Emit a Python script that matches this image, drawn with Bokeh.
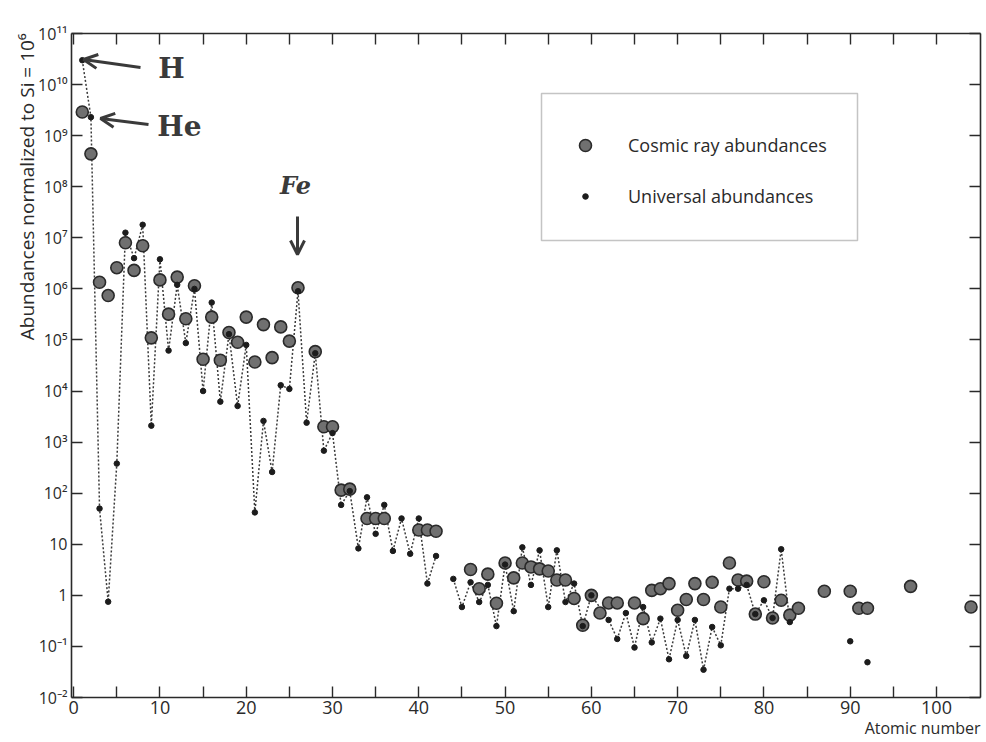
from bokeh.plotting import figure
from bokeh.models import (LogAxis, LinearAxis, FixedTicker, Label, Arrow, OpenHead,
                          BoxAnnotation, Legend, LegendItem, Title)
from bokeh.embed import file_html
from bokeh.resources import INLINE

nan = float("nan")

# Cosmic ray abundances (atomic number, abundance normalised to Si = 10^6)
cosmic_z = [1, 2, 3, 4, 5, 6, 7, 8, 9, 10, 11, 12, 13, 14, 15, 16, 17, 18, 19, 20,
            21, 22, 23, 24, 25, 26, 28, 29, 30, 31, 32, 34, 35, 36, 40, 41, 42,
            46, 47, 48, 49, 50, 51, 52, 53, 54, 55, 56, 57, 58, 59, 60, 61, 62, 63,
            65, 66, 67, 68, 69, 70, 71, 72, 73, 74, 75, 76, 77, 78, 79, 80, 81, 82,
            83, 84, 87, 90, 91, 92, 97, 104]
cosmic_abund = [2.9e9, 4.4e8, 1.35e6, 7.4e5, 2.6e6, 8e6, 2.3e6, 7e6, 1.1e5, 1.5e6,
                3.2e5, 1.7e6, 2.6e5, 1.15e6, 4.2e4, 2.8e5, 4e4, 1.4e5, 9e4, 2.8e5,
                3.7e4, 2e5, 4.5e4, 1.8e5, 9.5e4, 1.05e6, 5.9e4, 2e3, 2e3, 115, 120,
                32, 32, 32, 19, 19, 18,
                3.2, 1.35, 2.6, 0.7, 4.3, 2.2, 4.3, 3.6, 3.3, 3.0, 2.0, 2.0, 0.87, 0.26,
                1.0, 0.45, 0.71, 0.71,
                0.71, 0.35, 1.25, 1.35, 1.7, 0.51, 0.83, 1.7, 0.83, 1.8, 0.59, 4.3,
                2.0, 1.9, 0.43, 1.85, 0.36, 0.8,
                0.41, 0.56, 1.2, 1.2, 0.56, 0.56, 1.5, 0.59]

# Universal abundances (NaN = no value, breaks the dotted line)
universal_z = [1, 2, 3, 4, 5, 6, 7, 8, 9, 10, 11, 12, 13, 14, 15, 16, 17, 18, 19, 20,
               21, 22, 23, 24, 25, 26, 27, 28, 29, 30, 31, 32, 33, 34, 35, 36, 37, 38,
               39, 40, 41, 42, 43, 44, 45, 46, 47, 48, 49, 50, 51, 52, 53, 54, 55, 56,
               57, 58, 59, 60, 62, 63, 64, 65, 66, 67, 68, 69, 70, 71, 72, 73, 74, 75,
               76, 77, 78, 79, 80, 81, 82, 83, 84, 90, 91, 92]
universal_abund = [3e10, 2.3e9, 50, 0.75, 380, 1.26e7, 4e6, 1.8e7, 2.1e3, 3.8e6,
                   6.2e4, 1.2e6, 8.7e4, 1e6, 1e4, 5.4e5, 6.2e3, 1.3e5, 5.1e3, 8e4,
                   42, 2.6e3, 260, 1.3e4, 1.1e4, 9e5, 2.4e3, 5.5e4, 680, 1.5e3, 59, 110,
                   8.3, 83, 16, 59, 7.4, 32,
                   6.5, 32, 1.7, 5.9, nan, 2.1, 0.59, 1.8, 0.74, 1.6, 0.25, 4.0, 0.49,
                   8.7, 1.6, 7.6, 0.59, 7.6,
                   0.74, 1.7, 0.25, 1.0, 0.33, 0.14, 0.45, 0.095, 0.59, 0.12, 0.35,
                   0.056, 0.33, 0.065, 0.33, 0.035, 0.24, 0.105,
                   1.35, 1.35, 1.6, 0.43, 0.8, 0.36, 8.0, 0.3, nan, 0.126, nan, 0.049]

# Tick labels
x_ticks = list(range(0, 101, 5))
x_tick_labels = {t: (str(t) if t % 10 == 0 else "") for t in x_ticks}
y_ticks = [1e-2, 1e-1, 1.0, 10.0, 1e2, 1e3, 1e4, 1e5, 1e6, 1e7, 1e8, 1e9, 1e10, 1e11]
y_tick_text = ["10⁻²", "10⁻¹", "1", "10", "10²", "10³", "10⁴", "10⁵", "10⁶", "10⁷",
               "10⁸", "10⁹", "10¹⁰", "10¹¹"]

FONT = "Open Sans"
INK = "#2a2a2a"

p = figure(width=986, height=742, x_range=(-0.25, 105.1), y_range=(1e-2, 1e11),
           y_axis_type="log", output_backend="svg", toolbar_location=None,
           min_border_left=71, min_border_top=33, min_border_bottom=45,
           min_border_right=6, background_fill_color="white",
           border_fill_color="white", outline_line_color=None)
p.grid.visible = False


def style_axis(ax):
    ax.axis_line_color = INK
    ax.axis_line_width = 1.6
    ax.major_tick_line_color = INK
    ax.major_tick_line_width = 1.4
    ax.major_tick_in = 11
    ax.major_tick_out = 0
    ax.minor_tick_in = 0
    ax.minor_tick_out = 0
    ax.minor_tick_line_color = None
    ax.major_label_text_font = FONT
    ax.major_label_text_color = INK


xa = p.xaxis[0]
xa.ticker = FixedTicker(ticks=x_ticks)
xa.major_label_overrides = x_tick_labels
style_axis(xa)
xa.major_label_text_font_size = "18px"
xa.major_label_standoff = 3

ya = p.yaxis[0]
ya.ticker = FixedTicker(ticks=y_ticks)
ya.major_label_overrides = dict(zip(y_ticks, y_tick_text))
style_axis(ya)
ya.major_label_text_font_size = "16px"
ya.major_label_standoff = 4

top = LinearAxis(ticker=FixedTicker(ticks=x_ticks),
                 major_label_overrides={t: "" for t in x_ticks}, major_label_standoff=0)
style_axis(top)
p.add_layout(top, "above")
right = LogAxis(ticker=FixedTicker(ticks=y_ticks),
                major_label_overrides={t: "" for t in y_ticks}, major_label_standoff=0)
style_axis(right)
p.add_layout(right, "right")

# axis titles
p.add_layout(Title(text="Abundances normalized to Si = 10⁶", align="right",
                   text_font=FONT, text_font_size="19px", text_font_style="normal",
                   text_color=INK, standoff=-9), "left")
p.add_layout(Title(text="Atomic number", align="right", text_font=FONT,
                   text_font_size="16px", text_font_style="normal",
                   text_color=INK, standoff=-4), "below")

# data
p.line(universal_z, universal_abund, line_dash="2 2", line_width=1.5, line_color="#3a3a3a")
r_cos = p.scatter(cosmic_z, cosmic_abund, size=12, fill_color="#707070",
                  line_color="#2a2a2a", line_width=1.6)
r_uni = p.scatter(universal_z, universal_abund, size=5.5, fill_color="#1c1c1c",
                  line_color="#1c1c1c")

# legend box and legends
p.add_layout(BoxAnnotation(left=470, right=786, top=604, bottom=457,
                           left_units="screen", right_units="screen",
                           top_units="screen", bottom_units="screen",
                           fill_alpha=0, fill_color=None, line_color="#3a3a3a",
                           line_width=1.5))
leg_common = dict(border_line_color=None, background_fill_alpha=0, padding=0,
                  margin=0, spacing=0, label_text_font=FONT,
                  label_text_font_size="18px", label_text_color=INK,
                  label_standoff=28, glyph_width=30)
leg1 = Legend(items=[LegendItem(label="Cosmic ray abundances", renderers=[r_cos])],
              location=(499, 537), glyph_height=30, **leg_common)
leg2 = Legend(items=[LegendItem(label="Universal abundances", renderers=[r_uni])],
              location=(499, 489), glyph_height=14, **leg_common)
p.add_layout(leg1)
p.add_layout(leg2)

# hand-written annotations
for txt, sx, sy, size, style in [("H", 100, 629, "28px", "bold"),
                                 ("He", 108, 571, "28px", "bold"),
                                 ("Fe", 224, 512, "24px", "bold italic")]:
    p.add_layout(Label(x=sx, y=sy, x_units="screen", y_units="screen", text=txt,
                       text_font="DejaVu Serif", text_font_size=size,
                       text_font_style=style, text_color="#3a3a3a",
                       text_align="center", text_baseline="middle"))

for x0, y0, x1, y1 in [(69, 630, 12, 638), (77, 573, 29, 579), (226, 481, 226, 443)]:
    p.add_layout(Arrow(x_start=x0, y_start=y0, x_end=x1, y_end=y1,
                       start_units="screen", end_units="screen",
                       line_color="#3a3a3a", line_width=3,
                       end=OpenHead(size=14, line_width=3, line_color="#3a3a3a")))

open("out.html", "w").write(file_html(p, INLINE))
